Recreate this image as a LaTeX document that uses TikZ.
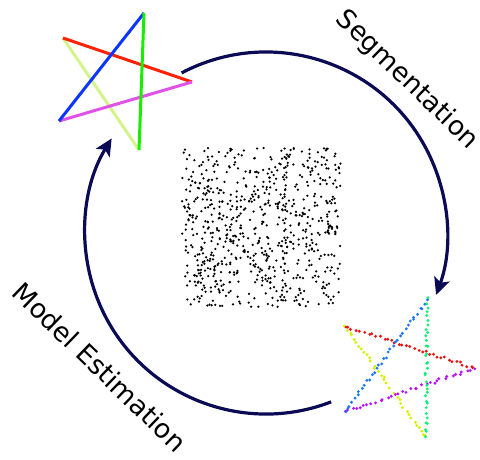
\documentclass[tikz,border=0pt]{standalone}
\usepackage{fontspec}
\setsansfont{DejaVu Sans}
\usetikzlibrary{arrows.meta,calc}
\definecolor{cyclenavy}{HTML}{0A0A55}
\definecolor{lnred}{HTML}{FF2200}
\definecolor{lnblue}{HTML}{0A36FF}
\definecolor{lngreen}{HTML}{19EE00}
\definecolor{lnlime}{HTML}{D2F48A}
\definecolor{lnmagenta}{HTML}{E052E6}
\definecolor{ptred}{HTML}{EE1111}
\definecolor{ptblue}{HTML}{1A75FF}
\definecolor{ptgreen}{HTML}{11EE77}
\definecolor{ptyellow}{HTML}{D4F200}
\definecolor{ptmagenta}{HTML}{BB11FF}

\begin{document}
\begin{tikzpicture}[
  x=1pt,y=-1pt,
  font=\sffamily,
  cycle/.style={draw=cyclenavy,line width=3.2pt,-{Stealth[length=17pt,width=16pt,inset=4pt]}},
  steplabel/.style={font=\sffamily\fontsize{26.5}{31}\selectfont,rotate=-44,inner sep=0pt},
  starline/.style={line width=3pt},
  cloudpt/.style={fill=black}
]
\useasboundingbox (0,0) rectangle (480,459);
\pgfmathsetseed{4242}

\coordinate (c) at (266,233);

% fitted model, top left
\coordinate (mT) at (144,13);
\coordinate (mL) at (63,38);
\coordinate (mR) at (192,82);
\coordinate (mBL) at (59,121);
\coordinate (mB) at (139,150);
\draw[starline,lnlime] (mL) -- (mB);
\draw[starline,lnred] (mL) -- (mR);
\draw[starline,lnmagenta] (mBL) -- (mR);
\draw[starline,lnblue] (mT) -- (mBL);
\draw[starline,lngreen] (mT) -- (mB);

% raw point cloud
\foreach \k in {1,...,600}{
  \fill[cloudpt] ({182+159*rnd},{148+159*rnd}) circle (1.25pt);
}
\coordinate (sT) at (285,155);
\coordinate (sL) at (195,183);
\coordinate (sR) at (338,227);
\coordinate (sBL) at (195,274);
\coordinate (sB) at (284,300);
\foreach \p/\q in {sL/sR,sT/sBL,sT/sB,sL/sB,sBL/sR}{
  \foreach \k in {0,...,28}{
    \fill[cloudpt] ($(\p)!{(\k+0.4*rand)/28}!(\q)+({1.6*rand},{1.6*rand})$) circle (1.25pt);
  }
}

% segmented points, bottom right
\coordinate (gT) at (427,300);
\coordinate (gL) at (345,326);
\coordinate (gR) at (475,368);
\coordinate (gBL) at (345,412);
\coordinate (gB) at (426,437);
\foreach \p/\q/\col in {gL/gB/ptyellow,gBL/gR/ptmagenta,gL/gR/ptred,gT/gBL/ptblue,gT/gB/ptgreen}{
  \foreach \k in {0,...,34}{
    \fill[\col] ($(\p)!{(\k+0.35*rand)/34}!(\q)+({1.3*rand},{1.3*rand})$) circle (1.6pt);
  }
}

\coordinate (segfrom) at ($(c)+(117.8:181pt)$);
\coordinate (estfrom) at ($(c)+(-68.9:181pt)$);
\draw[cycle] (segfrom) arc[start angle=117.8,end angle=-20,radius=181pt];
\draw[cycle] (estfrom) arc[start angle=-68.9,end angle=-211.5,radius=181pt];

\node[steplabel] (seg) at (407,80) {Segmentation};
\node[steplabel] (est) at (100,367) {Model Estimation};
\end{tikzpicture}
\end{document}
